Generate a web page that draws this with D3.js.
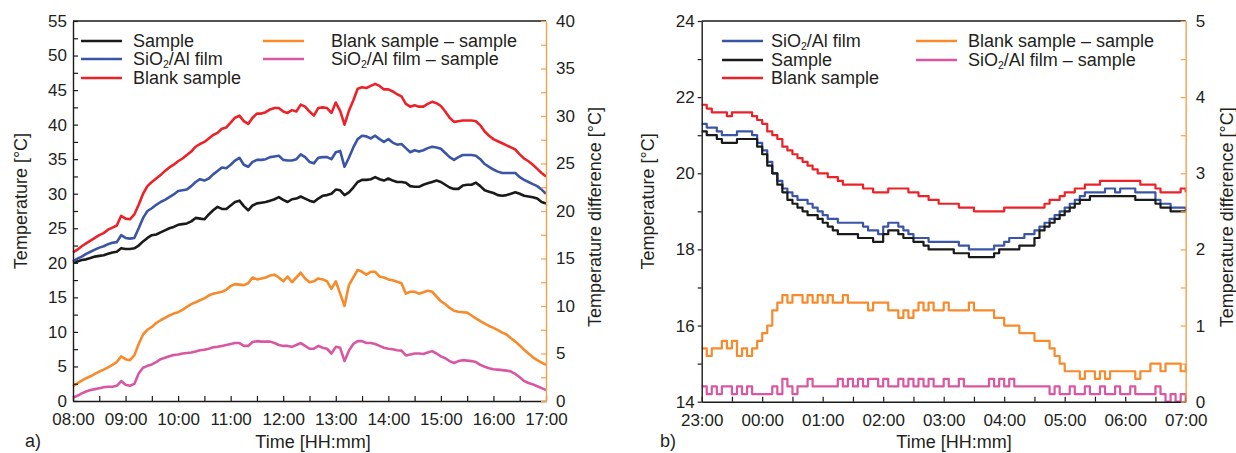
<!DOCTYPE html>
<html>
<head>
<meta charset="utf-8">
<script src="https://cdn.jsdelivr.net/npm/d3@7"></script>
<style>
  body { margin: 0; background: #fff; }
  svg { display: block; font-family: "Liberation Sans", Arial, Helvetica, sans-serif; }
</style>
</head>
<body>
<div id="chart"></div>
<script>
// ---- data (one value every 5 minutes) ----
const STEP_MIN = 5;

const seriesNames = ["Sample", "SiO2/Al film", "Blank sample", "Blank sample – sample", "SiO2/Al film – sample"];

// panel a) 08:00 - 17:00, temperatures [°C] on the left axis
const sampleA = [
  20.0,20.2,20.4,20.5,20.7,20.9,21.0,21.1,21.3,21.5,
  21.6,22.1,22.0,22.0,22.1,22.5,23.1,23.6,24.0,24.1,
  24.4,24.7,25.0,25.2,25.5,25.6,25.7,26.0,26.5,26.4,
  26.3,27.0,27.6,28.1,27.8,27.8,28.3,28.8,29.0,28.2,
  27.6,28.3,28.6,28.7,28.8,29.0,29.2,29.5,29.1,28.8,
  29.2,29.3,29.6,29.3,29.0,28.8,29.3,29.7,29.8,30.0,
  30.6,30.5,29.8,30.2,30.9,31.7,32.0,32.0,32.1,32.4,
  32.1,31.9,32.2,31.9,31.7,31.7,31.6,31.1,31.0,31.0,
  31.3,31.5,31.7,31.9,31.7,31.3,30.9,30.7,30.7,31.2,
  31.3,31.3,31.6,31.1,30.5,30.3,30.1,29.8,29.7,29.8,
  30.0,30.2,30.0,29.7,29.6,29.5,29.3,28.8,28.6
];
const filmA = [
  20.2,20.6,20.9,21.3,21.6,21.9,22.2,22.4,22.7,22.9,
  23.0,24.0,23.6,23.5,23.6,25.0,26.5,27.5,27.9,28.4,
  28.8,29.1,29.5,29.9,30.4,30.5,30.6,31.1,31.7,32.1,
  31.9,32.2,32.8,33.3,33.8,33.7,34.2,34.8,35.2,34.2,
  33.9,34.6,34.9,34.9,35.0,35.3,35.4,35.5,34.9,34.8,
  34.8,35.0,35.7,35.3,34.6,34.4,35.2,35.3,35.3,35.0,
  36.0,36.2,33.9,35.2,36.7,37.9,38.4,38.3,38.0,38.4,
  37.9,37.5,37.9,37.4,37.1,37.2,36.6,36.0,36.3,36.1,
  36.3,36.6,36.8,36.7,36.5,35.9,35.3,34.9,35.3,35.6,
  35.6,35.6,35.5,35.0,34.3,33.9,33.5,33.2,33.0,33.0,
  33.0,33.0,32.4,32.0,31.7,31.4,31.1,30.6,30.0
];
const blankA = [
  21.5,21.9,22.4,22.8,23.2,23.6,24.0,24.3,24.8,25.1,
  25.4,26.8,26.4,26.3,27.0,28.4,30.0,31.1,31.7,32.2,
  32.7,33.3,33.8,34.2,34.7,35.1,35.6,36.1,36.8,37.2,
  37.5,38.0,38.5,38.8,39.4,39.6,40.3,41.0,41.3,40.5,
  40.1,41.0,41.6,41.6,41.8,42.2,42.4,42.4,41.9,41.7,
  42.1,41.9,42.9,42.6,41.9,41.3,42.4,42.5,42.4,41.7,
  43.2,42.0,40.0,42.0,43.5,45.2,45.4,45.3,45.6,45.9,
  45.6,45.1,45.1,44.8,44.4,44.1,43.0,42.6,42.8,42.6,
  42.6,43.0,43.3,43.1,42.7,41.9,41.0,40.4,40.5,40.6,
  40.6,40.6,40.5,39.9,39.0,38.4,37.9,37.6,37.3,37.0,
  36.7,36.4,35.7,35.1,34.7,34.2,33.6,33.0,32.5
];
// panel a) differences [°C] on the right axis
const blankDiffA = [
  1.55,1.85,2.15,2.4,2.6,2.85,3.1,3.3,3.55,3.8,
  4.1,4.7,4.4,4.3,4.8,6.0,7.0,7.5,7.8,8.2,
  8.5,8.75,9.0,9.2,9.35,9.6,9.9,10.2,10.4,10.6,
  10.8,11.1,11.3,11.4,11.5,11.7,12.1,12.3,12.25,12.2,
  12.4,13.0,12.8,12.9,13.0,13.2,13.3,13.0,12.6,13.1,
  12.5,13.0,13.5,12.9,12.5,12.6,12.9,12.8,12.6,11.8,
  12.6,11.3,10.0,12.2,13.0,13.8,13.6,13.3,13.6,13.6,
  13.1,13.0,12.8,12.7,12.55,12.4,11.3,11.5,11.5,11.3,
  11.45,11.6,11.5,11.0,10.5,10.2,9.8,9.5,9.4,9.35,
  9.3,9.0,8.7,8.4,8.15,7.9,7.7,7.45,7.2,7.0,
  6.6,6.25,5.85,5.4,5.0,4.6,4.3,4.05,3.8
];
const filmDiffA = [
  0.35,0.55,0.8,1.0,1.15,1.25,1.35,1.45,1.5,1.5,
  1.6,2.1,1.7,1.6,1.8,2.9,3.5,3.7,3.85,4.1,
  4.4,4.55,4.7,4.85,4.9,5.0,5.05,5.1,5.2,5.35,
  5.4,5.5,5.65,5.7,5.8,5.9,6.0,6.1,6.1,5.8,
  5.8,6.2,6.3,6.25,6.25,6.25,6.1,5.9,5.8,5.8,
  5.7,5.9,6.1,5.8,5.5,5.5,5.8,5.6,5.5,5.0,
  5.7,5.6,4.2,5.3,6.0,6.3,6.3,6.1,6.1,6.0,
  5.8,5.6,5.5,5.45,5.35,5.3,4.8,4.9,5.0,5.0,
  4.95,5.1,5.25,5.0,4.7,4.5,4.2,4.0,4.2,4.3,
  4.25,4.2,4.1,3.8,3.6,3.45,3.35,3.3,3.25,3.2,
  3.1,2.85,2.5,2.1,1.9,1.75,1.55,1.35,1.15
];

// panel b) 23:00 - 07:00
const filmB = [
  21.3,21.2,21.2,21.1,21.0,21.0,21.0,21.1,21.1,21.1,
  21.0,20.8,20.6,20.3,20.0,19.8,19.6,19.5,19.4,19.3,
  19.3,19.2,19.1,19.0,18.9,18.8,18.8,18.7,18.7,18.7,
  18.7,18.7,18.6,18.5,18.5,18.4,18.6,18.7,18.7,18.6,
  18.5,18.4,18.3,18.3,18.3,18.2,18.2,18.2,18.2,18.2,
  18.2,18.1,18.1,18.0,18.0,18.0,18.0,18.0,18.1,18.1,
  18.2,18.3,18.3,18.3,18.4,18.4,18.5,18.6,18.7,18.8,
  18.9,19.0,19.1,19.2,19.3,19.4,19.5,19.5,19.5,19.5,
  19.6,19.6,19.5,19.6,19.6,19.6,19.5,19.5,19.5,19.5,
  19.3,19.2,19.2,19.1,19.1,19.1,19.0
];
const sampleB = [
  21.1,21.0,21.0,20.9,20.8,20.8,20.8,20.9,20.9,20.9,
  20.9,20.7,20.5,20.2,20.0,19.7,19.5,19.3,19.2,19.1,
  19.0,18.9,18.9,18.8,18.7,18.6,18.5,18.4,18.4,18.4,
  18.4,18.3,18.3,18.3,18.2,18.2,18.4,18.5,18.5,18.4,
  18.3,18.3,18.2,18.2,18.1,18.0,18.0,18.0,18.0,18.0,
  17.9,17.9,17.9,17.8,17.8,17.8,17.8,17.8,17.9,18.0,
  18.0,18.0,18.0,18.1,18.1,18.1,18.3,18.5,18.6,18.7,
  18.8,18.9,19.0,19.1,19.2,19.3,19.3,19.4,19.4,19.4,
  19.4,19.4,19.4,19.4,19.4,19.4,19.3,19.3,19.3,19.3,
  19.2,19.1,19.1,19.0,19.0,19.0,19.0
];
const blankB = [
  21.8,21.7,21.6,21.6,21.6,21.5,21.6,21.6,21.6,21.6,
  21.5,21.4,21.3,21.1,21.0,20.9,20.7,20.6,20.5,20.4,
  20.3,20.2,20.1,20.0,20.0,19.9,19.9,19.8,19.7,19.7,
  19.7,19.7,19.6,19.6,19.5,19.5,19.5,19.6,19.6,19.6,
  19.6,19.5,19.5,19.4,19.4,19.3,19.3,19.2,19.2,19.2,
  19.2,19.1,19.1,19.1,19.0,19.0,19.0,19.0,19.0,19.0,
  19.1,19.1,19.1,19.1,19.1,19.1,19.1,19.1,19.2,19.3,
  19.3,19.4,19.5,19.5,19.6,19.6,19.7,19.7,19.7,19.8,
  19.8,19.8,19.8,19.8,19.8,19.8,19.8,19.7,19.7,19.7,
  19.6,19.5,19.5,19.5,19.5,19.6,19.5
];
const blankDiffB = [
  0.7,0.6,0.7,0.7,0.8,0.7,0.8,0.6,0.7,0.6,
  0.7,0.8,0.9,1.0,1.2,1.3,1.4,1.3,1.4,1.4,
  1.3,1.4,1.3,1.4,1.3,1.4,1.3,1.3,1.4,1.3,
  1.3,1.3,1.3,1.2,1.3,1.3,1.3,1.2,1.2,1.1,
  1.2,1.1,1.2,1.3,1.2,1.3,1.2,1.2,1.3,1.2,
  1.2,1.2,1.2,1.3,1.2,1.2,1.2,1.2,1.1,1.1,
  1.0,1.0,1.0,0.9,0.9,0.9,0.8,0.8,0.8,0.7,
  0.6,0.5,0.4,0.4,0.4,0.3,0.4,0.4,0.3,0.4,
  0.3,0.4,0.4,0.4,0.4,0.4,0.3,0.4,0.4,0.5,
  0.5,0.4,0.5,0.5,0.5,0.4,0.5
];
const filmDiffB = [
  0.2,0.1,0.2,0.1,0.2,0.2,0.1,0.2,0.1,0.2,
  0.1,0.1,0.1,0.1,0.2,0.1,0.3,0.2,0.1,0.2,
  0.2,0.3,0.2,0.2,0.2,0.2,0.2,0.3,0.2,0.3,
  0.2,0.3,0.2,0.3,0.3,0.2,0.3,0.2,0.2,0.3,
  0.2,0.3,0.2,0.3,0.2,0.3,0.2,0.2,0.3,0.2,
  0.2,0.3,0.2,0.2,0.2,0.2,0.2,0.3,0.2,0.3,
  0.2,0.3,0.2,0.2,0.2,0.2,0.2,0.2,0.2,0.1,
  0.2,0.1,0.1,0.2,0.1,0.1,0.2,0.1,0.1,0.2,
  0.1,0.1,0.2,0.1,0.1,0.2,0.1,0.1,0.1,0.1,
  0.2,0.1,0.0,0.1,0.0,0.1,0.0
];

// tick values
const yTicksLeftA = [0, 5, 10, 15, 20, 25, 30, 35, 40, 45, 50, 55];
const yTicksRightA = [0, 5, 10, 15, 20, 25, 30, 35, 40];
const yTicksLeftB = [14, 16, 18, 20, 22, 24];
const yTicksRightB = [0, 1, 2, 3, 4, 5];

// ---- drawing ----
const W = 1236, H = 453;
const COL = {
  black: "#1a1a1a", blue: "#3b55a6", red: "#ec2229",
  orange: "#f78a2a", pink: "#d957a2", axisR: "#f7a04a", text: "#231f20"
};
const TICK_FS = 17, TEXT_FS = 18;

const svg = d3.select("#chart").append("svg")
  .attr("width", W)
  .attr("height", H);

const panels = [
  {
    tag: "a)", tagX: 25, left: 73, right: 546, top: 21, bottom: 401,
    t0: new Date(2000, 0, 1, 8, 0), t1: new Date(2000, 0, 1, 17, 0),
    yTicksL: yTicksLeftA, yTicksR: yTicksRightA, leftTickOut: false,
    curve: d3.curveLinear, strokeW: 2.6,
    titleLX: 21, titleRX: 595, timeX: 313,
    series: [
      { name: seriesNames[3], values: blankDiffA, axis: "R", color: COL.orange },
      { name: seriesNames[4], values: filmDiffA, axis: "R", color: COL.pink },
      { name: seriesNames[0], values: sampleA, axis: "L", color: COL.black },
      { name: seriesNames[1], values: filmA, axis: "L", color: COL.blue },
      { name: seriesNames[2], values: blankA, axis: "L", color: COL.red }
    ],
    legend: [
      { name: seriesNames[0], color: COL.black, x: 81, tx: 133, y: 41 },
      { name: seriesNames[1], color: COL.blue, x: 81, tx: 133, y: 59 },
      { name: seriesNames[2], color: COL.red, x: 81, tx: 133, y: 78 },
      { name: seriesNames[3], color: COL.orange, x: 263, tx: 331, y: 41 },
      { name: seriesNames[4], color: COL.pink, x: 263, tx: 331, y: 59 }
    ]
  },
  {
    tag: "b)", tagX: 660, left: 701.7, right: 1185.7, top: 21, bottom: 401.7,
    t0: new Date(2000, 0, 1, 23, 0), t1: new Date(2000, 0, 2, 7, 0),
    yTicksL: yTicksLeftB, yTicksR: yTicksRightB, leftTickOut: true,
    curve: d3.curveStepAfter, strokeW: 2.2,
    titleLX: 648, titleRX: 1227, timeX: 954,
    series: [
      { name: seriesNames[3], values: blankDiffB, axis: "R", color: COL.orange },
      { name: seriesNames[4], values: filmDiffB, axis: "R", color: COL.pink },
      { name: seriesNames[2], values: blankB, axis: "L", color: COL.red },
      { name: seriesNames[1], values: filmB, axis: "L", color: COL.blue },
      { name: seriesNames[0], values: sampleB, axis: "L", color: COL.black }
    ],
    legend: [
      { name: seriesNames[1], color: COL.blue, x: 722, tx: 771, y: 41 },
      { name: seriesNames[0], color: COL.black, x: 722, tx: 771, y: 60 },
      { name: seriesNames[2], color: COL.red, x: 722, tx: 771, y: 78 },
      { name: seriesNames[3], color: COL.orange, x: 916, tx: 968, y: 41 },
      { name: seriesNames[4], color: COL.pink, x: 916, tx: 968, y: 60 }
    ]
  }
];

// majors plus the half-way minor ticks
const withMinor = t => t.flatMap((v, i) => i < t.length - 1 ? [v, (v + t[i + 1]) / 2] : [v]);
const fmtTime = d3.timeFormat("%H:%M");

// writes "SiO2" with a subscript 2
function labelText(sel, name) {
  const k = name.indexOf("SiO2");
  if (k < 0) { sel.text(name); return; }
  sel.append("tspan").text(name.slice(0, k + 3));
  sel.append("tspan").attr("font-size", "0.58em").attr("dy", 3).text("2");
  sel.append("tspan").attr("dy", -3).text(name.slice(k + 4));
}

function styleAxis(g, color) {
  g.attr("font-family", null).attr("font-size", null);
  g.select(".domain").attr("stroke", color).attr("stroke-width", 1.4);
  g.selectAll(".tick line").attr("stroke", color).attr("stroke-width", 1.2);
  g.selectAll(".tick text").attr("fill", COL.text).style("font-size", TICK_FS + "px");
}

panels.forEach(function(p) {
  const g = svg.append("g");

  const x = d3.scaleTime().domain([p.t0, p.t1]).range([p.left, p.right]);
  const yL = d3.scaleLinear().domain(d3.extent(p.yTicksL)).range([p.bottom, p.top]);
  const yR = d3.scaleLinear().domain(d3.extent(p.yTicksR)).range([p.bottom, p.top]);

  // data lines
  p.series.forEach(function(s) {
    const y = s.axis === "L" ? yL : yR;
    const pts = s.values.map((v, i) => [d3.timeMinute.offset(p.t0, i * STEP_MIN), v]);
    const line = d3.line()
      .x(d => x(d[0]))
      .y(d => y(d[1]))
      .curve(p.curve);
    g.append("path")
      .datum(pts)
      .attr("fill", "none")
      .attr("stroke", s.color)
      .attr("stroke-width", p.strokeW)
      .attr("stroke-linejoin", "round")
      .attr("d", line);
  });

  // top frame line
  g.append("line")
    .attr("x1", p.left).attr("x2", p.right)
    .attr("y1", p.top).attr("y2", p.top)
    .attr("stroke", COL.black).attr("stroke-width", 1.4);

  // x axis, ticks every 30 min pointing inward
  const xTicks = d3.timeMinute.every(30).range(p.t0, d3.timeMinute.offset(p.t1, 1));
  g.append("g")
    .attr("transform", "translate(0," + p.bottom + ")")
    .call(d3.axisBottom(x)
      .tickValues(xTicks)
      .tickSizeInner(-5)
      .tickSizeOuter(0)
      .tickPadding(12)
      .tickFormat(d => d.getMinutes() === 0 ? fmtTime(d) : ""))
    .call(a => styleAxis(a, COL.black));

  // left axis
  const major = new Set(p.yTicksL);
  g.append("g")
    .attr("transform", "translate(" + p.left + ",0)")
    .call(d3.axisLeft(yL)
      .tickValues(withMinor(p.yTicksL))
      .tickSizeInner(p.leftTickOut ? 4 : -5)
      .tickSizeOuter(0)
      .tickPadding(p.leftTickOut ? 3 : 6)
      .tickFormat(d => major.has(d) ? d : ""))
    .call(a => styleAxis(a, COL.black));

  // right axis (orange), ticks inward
  const majorR = new Set(p.yTicksR);
  g.append("g")
    .attr("transform", "translate(" + p.right + ",0)")
    .call(d3.axisRight(yR)
      .tickValues(withMinor(p.yTicksR))
      .tickSizeInner(-5)
      .tickSizeOuter(0)
      .tickPadding(10)
      .tickFormat(d => majorR.has(d) ? d : ""))
    .call(a => styleAxis(a, COL.axisR));

  // axis titles
  const midY = (p.top + p.bottom) / 2;
  g.append("text")
    .attr("transform", "translate(" + p.titleLX + "," + (midY - 10) + ") rotate(-90)")
    .attr("text-anchor", "middle")
    .attr("dy", "0.35em")
    .attr("fill", COL.text)
    .style("font-size", TEXT_FS + "px")
    .text("Temperature [°C]");
  g.append("text")
    .attr("transform", "translate(" + p.titleRX + "," + (midY + 6) + ") rotate(-90)")
    .attr("text-anchor", "middle")
    .attr("dy", "0.35em")
    .attr("fill", COL.text)
    .style("font-size", TEXT_FS + "px")
    .text("Temperature difference [°C]");
  g.append("text")
    .attr("x", p.timeX).attr("y", 448)
    .attr("text-anchor", "middle")
    .attr("fill", COL.text)
    .style("font-size", TEXT_FS + "px")
    .text("Time [HH:mm]");
  g.append("text")
    .attr("x", p.tagX).attr("y", 447)
    .attr("fill", COL.text)
    .style("font-size", TEXT_FS + "px")
    .text(p.tag);

  // legend
  const lg = g.append("g").selectAll("g")
    .data(p.legend)
    .enter().append("g");
  lg.append("line")
    .attr("x1", d => d.x).attr("x2", d => d.x + 41)
    .attr("y1", d => d.y).attr("y2", d => d.y)
    .attr("stroke", d => d.color)
    .attr("stroke-width", 2.6);
  lg.append("text")
    .attr("x", d => d.tx)
    .attr("y", d => d.y + 6)
    .attr("fill", COL.text)
    .style("font-size", TEXT_FS + "px")
    .each(function(d) { labelText(d3.select(this), d.name); });
});
</script>
</body>
</html>
